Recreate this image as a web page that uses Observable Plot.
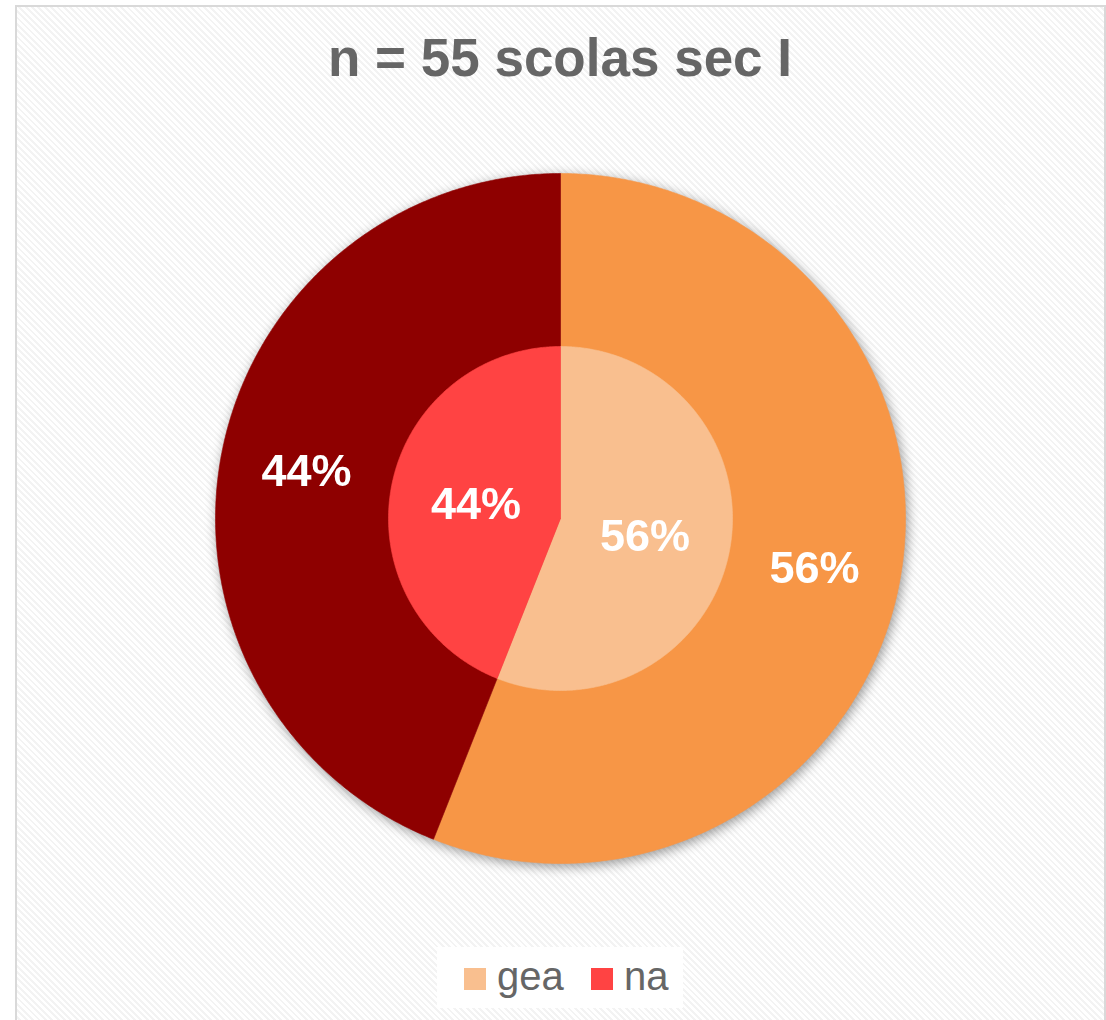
<!DOCTYPE html>
<html>
<head>
<meta charset="utf-8">
<script src="https://cdn.jsdelivr.net/npm/d3@7"></script>
<script src="https://cdn.jsdelivr.net/npm/@observablehq/plot@0.6"></script>
<style>
  html, body { margin: 0; padding: 0; background: #fff; }
  #wrap { position: relative; width: 1106px; height: 1020px; overflow: hidden; font-family: "Liberation Sans", Arial, sans-serif; }
  #frame { position: absolute; left: 15px; top: 5px; width: 1087px; height: 1040px; border: 2px solid #d9d9d9;
    background: repeating-linear-gradient(45deg, #ffffff 0px, #ffffff 2.5px, #f3f3f3 2.5px, #f3f3f3 4.5px); }
  #title { position: absolute; left: 0; width: 1120px; top: 31px; text-align: center; font-size: 53px; line-height: 53px; font-weight: bold; color: #666; }
  #chart { position: absolute; left: 0; top: 100px; filter: drop-shadow(2px 3px 6px rgba(0,0,0,0.4)); }
  #chart svg { overflow: visible; background: transparent; display: block; }
  #legend { position: absolute; left: 437px; top: 947px; width: 246px; height: 61px; background: #fff; }
  .sw { position: absolute; width: 22px; height: 22px; top: 21px; }
  .lt { position: absolute; top: 9px; font-size: 40px; line-height: 40px; color: #666; }
</style>
</head>
<body>
<div id="wrap">
  <div id="frame"></div>
  <div id="title"></div>
  <div id="chart"></div>
  <div id="legend"></div>
</div>
<script>
const titleText = "n = 55 scolas sec I";
const categories = ["gea", "na"];
const innerValues = [56, 44];
const outerValues = [56, 44];
const innerColors = ["#F9BF8F", "#FF4343"];
const outerColors = ["#F79646", "#8E0000"];

document.getElementById("title").textContent = titleText;

const pie = d3.pie().sort(null).value(d => d);

function slicePoints(a, r) {
  const pts = [{x: 0, y: 0}];
  const n = Math.max(2, Math.ceil((a.endAngle - a.startAngle) / (Math.PI / 360)));
  for (let k = 0; k <= n; k++) {
    const t = a.startAngle + (a.endAngle - a.startAngle) * k / n;
    pts.push({x: r * Math.sin(t), y: r * Math.cos(t)});
  }
  pts.push({x: 0, y: 0});
  return pts;
}

function labelPoints(values, rLabel) {
  const total = d3.sum(values);
  return pie(values).map((a, i) => {
    const m = (a.startAngle + a.endAngle) / 2;
    return {x: rLabel * Math.sin(m), y: rLabel * Math.cos(m), text: Math.round(values[i] / total * 100) + "%"};
  });
}

const R = 1, r = 0.4986;
const outerArcs = pie(outerValues);
const innerArcs = pie(innerValues);
const labels = labelPoints(outerValues, (R + r) / 2).concat(labelPoints(innerValues, r / 2));

const sliceMarks = (arcs, colors, rad) => arcs.map((a, i) =>
  Plot.line(slicePoints(a, rad), {x: "x", y: "y", fill: colors[i], stroke: colors[i], strokeWidth: 0.6, curve: "linear"}));

const cx = 560, cy = 418, px = 345;
const chart = Plot.plot({
  width: 1106,
  height: 840,
  margin: 0,
  style: {background: "transparent"},
  x: {domain: [-1, 1], range: [cx - px, cx + px], axis: null},
  y: {domain: [-1, 1], range: [cy + px, cy - px], axis: null},
  marks: [
    ...sliceMarks(outerArcs, outerColors, R),
    ...sliceMarks(innerArcs, innerColors, r),
    Plot.text(labels, {x: "x", y: "y", text: "text", fill: "white", fontSize: 45, fontWeight: "bold", fontFamily: "Liberation Sans, Arial, sans-serif", dy: 2})
  ]
});
document.getElementById("chart").appendChild(chart);

const legend = document.getElementById("legend");
const swX = [27, 154], txX = [60, 187];
categories.forEach((c, i) => {
  const s = document.createElement("div");
  s.className = "sw"; s.style.left = swX[i] + "px"; s.style.background = innerColors[i];
  legend.appendChild(s);
  const t = document.createElement("div");
  t.className = "lt"; t.style.left = txX[i] + "px"; t.textContent = c;
  legend.appendChild(t);
});
</script>
</body>
</html>
